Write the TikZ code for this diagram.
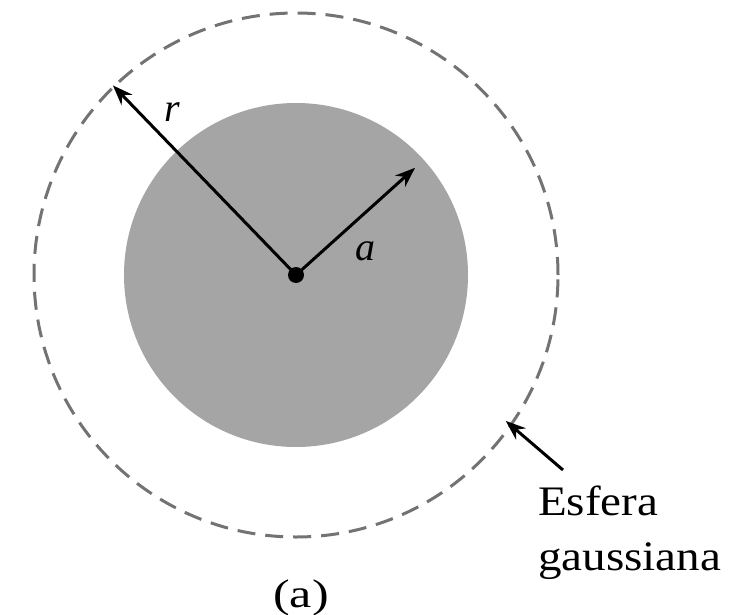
\documentclass[tikz,border=0pt]{standalone}
\usepackage{fontspec}
\setmainfont{Liberation Serif}
\usetikzlibrary{arrows.meta,calc}
\definecolor{ballgray}{RGB}{165,165,165}
\definecolor{dashgray}{RGB}{115,115,115}
\tikzset{
  arr/.style={line width=3pt,-{Stealth[length=20pt,width=15pt]}},
  lbl/.style={font=\fontsize{40}{42}\selectfont\itshape, inner sep=0pt},
  txt/.style={font=\fontsize{42}{44}\selectfont, inner sep=0pt, anchor=base west}
}
\begin{document}
\begin{tikzpicture}[x=1pt,y=-1pt]
\useasboundingbox (0,0) rectangle (744,615);
\coordinate (c) at (296,275);
\node[circle, fill=ballgray, minimum size=344pt, inner sep=0pt] (inner) at (c) {};
\node[circle, draw=dashgray, line width=3pt, dash pattern=on 18pt off 10pt, minimum size=524pt, inner sep=0pt] (outer) at (c) {};
\node[circle, fill=black, minimum size=16pt, inner sep=0pt] (dot) at (c) {};
\draw[arr] (c) -- (outer.134);
\draw[arr, shorten >=12pt] (c) -- (inner.42);
\node[lbl] (r) at (172,112) {r};
\node[lbl] (a) at (365,251) {a};
\coordinate (tail) at (563,470);
\draw[arr, shorten >=-8pt] (tail) -- (outer.-35);
\node[txt] (esf) at (538,515) {\scalebox{1.12}[1]{Esfera}};
\node[txt] (gau) at (538,570) {\scalebox{1.12}[1]{gaussiana}};
\node[font=\fontsize{40}{42}\selectfont, inner sep=0pt] (cap) at (301,598) {\scalebox{1.25}[1]{(a)}};
\end{tikzpicture}
\end{document}
